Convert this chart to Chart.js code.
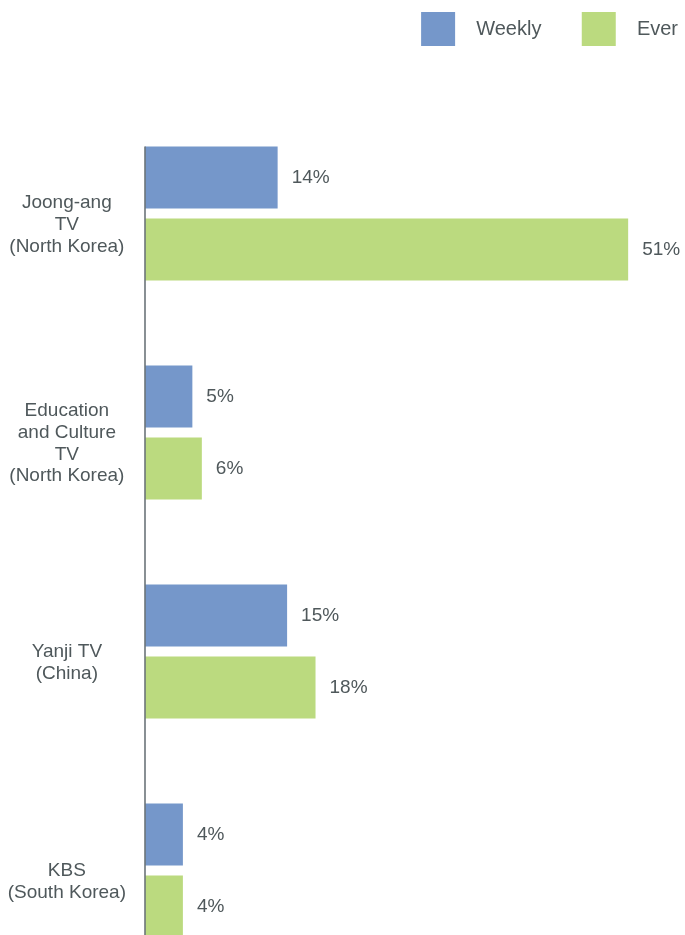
<!DOCTYPE html>
<html>
<head>
<meta charset="utf-8">
<script src="https://cdn.jsdelivr.net/npm/chart.js@4"></script>
<style>
  html, body { margin: 0; padding: 0; background: #fff; overflow: hidden; }
  canvas { display: block; }
</style>
</head>
<body>
<canvas id="myChart" width="685" height="980"></canvas>
<script>
const categories = [
    ['Joong-ang', 'TV', '(North Korea)'],
    ['Education', 'and Culture', 'TV', '(North Korea)'],
    ['Yanji TV', '(China)'],
    ['KBS', '(South Korea)']
];
const seriesNames = ['Weekly', 'Ever'];
const weekly = [14, 5, 15, 4];
const ever = [51, 6, 18, 4];
const xMax = 57;

const textColor = '#4f585b';
const fontFamily = '"Liberation Sans", Arial, Helvetica, sans-serif';

document.addEventListener('DOMContentLoaded', () => {
    const ctx = document.getElementById('myChart');

    // push the plot down below the legend
    const legendSpace = {
        id: 'legendSpace',
        beforeInit(chart) {
            const fit = chart.legend.fit;
            chart.legend.fit = function () {
                fit.bind(chart.legend)();
                this.height = 99;
            };
        }
    };

    // axis line + value labels
    const extras = {
        id: 'extras',
        afterDatasetsDraw(chart) {
            const c = chart.ctx;
            const x0 = chart.scales.x.getPixelForValue(0);
            const first = chart.getDatasetMeta(0).data[0];
            c.save();
            c.strokeStyle = '#6b7479';
            c.lineWidth = 1.6;
            c.beginPath();
            c.moveTo(x0, first.y - first.height / 2);
            c.lineTo(x0, chart.chartArea.bottom);
            c.stroke();

            c.fillStyle = textColor;
            c.font = '19px ' + fontFamily;
            c.textBaseline = 'middle';
            c.textAlign = 'left';
            chart.data.datasets.forEach((ds, i) => {
                chart.getDatasetMeta(i).data.forEach((bar, j) => {
                    c.fillText(ds.data[j] + '%', bar.x + 14, bar.y);
                });
            });
            c.restore();
        }
    };

    new Chart(ctx, {
        type: 'bar',
        data: {
            labels: categories,
            datasets: [{
                label: seriesNames[0],
                data: weekly,
                backgroundColor: '#7597ca',
                borderWidth: 0
            }, {
                label: seriesNames[1],
                data: ever,
                backgroundColor: '#bbda7f',
                borderWidth: 0
            }]
        },
        options: {
            indexAxis: 'y',
            responsive: false,
            animation: false,
            events: [],
            categoryPercentage: 0.658,
            barPercentage: 0.861,
            layout: { padding: { top: 5, left: 0, right: 0, bottom: 0 } },
            scales: {
                x: {
                    display: false,
                    min: 0,
                    max: xMax
                },
                y: {
                    grid: { display: false, drawTicks: false },
                    border: { display: false },
                    ticks: {
                        crossAlign: 'center',
                        padding: 19,
                        color: textColor,
                        font: { family: fontFamily, size: 19, lineHeight: 1.15 },
                        callback: function (value) {
                            return [''].concat(this.getLabelForValue(value));
                        }
                    },
                    afterFit: (scale) => {
                        scale.width = 145;
                        scale.paddingTop = 0;
                        scale.paddingBottom = 0;
                    }
                }
            },
            plugins: {
                legend: {
                    position: 'top',
                    align: 'end',
                    labels: {
                        boxWidth: 34,
                        boxHeight: 34,
                        padding: 7,
                        color: textColor,
                        font: { family: fontFamily, size: 20 },
                        generateLabels: (chart) => {
                            const items = Chart.defaults.plugins.legend.labels.generateLabels(chart);
                            items.forEach((item, i) => {
                                item.lineWidth = 0;
                                item.text = '  ' + item.text + (i < items.length - 1 ? '      ' : '');
                            });
                            return items;
                        }
                    }
                },
                tooltip: { enabled: false }
            }
        },
        plugins: [legendSpace, extras]
    });
});
</script>
</body>
</html>
